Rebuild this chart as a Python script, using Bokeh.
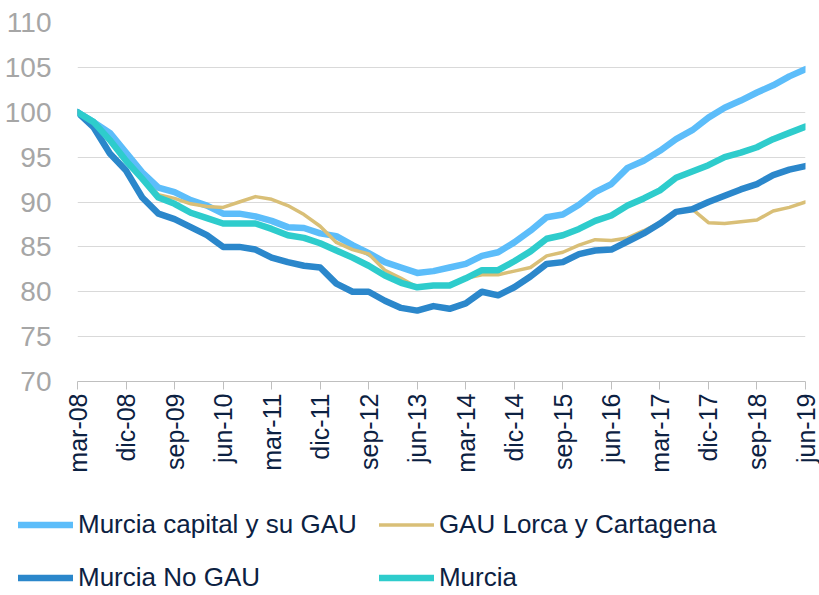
import math
from bokeh.plotting import figure
from bokeh.models import Range1d, FixedTicker, Legend, LegendItem, ColumnDataSource
from bokeh.embed import file_html
from bokeh.resources import INLINE

tick_labels = ["mar-08", "dic-08", "sep-09", "jun-10", "mar-11", "dic-11", "sep-12", "jun-13",
               "mar-14", "dic-14", "sep-15", "jun-16", "mar-17", "dic-17", "sep-18", "jun-19"]

murcia_capital = [100, 98.9, 97.7, 95.5, 93.3, 91.6, 91.1, 90.2, 89.6, 88.7, 88.7, 88.4, 87.9, 87.2, 87.1, 86.5,
                  86.2, 85.2, 84.3, 83.3, 82.7, 82.1, 82.3, 82.7, 83.1, 84.0, 84.4, 85.5, 86.8, 88.3, 88.6, 89.7,
                  91.1, 92.0, 93.8, 94.6, 95.7, 97.0, 98.0, 99.4, 100.5, 101.3, 102.2, 103.0, 104.0, 104.8]
gau_lorca = [100, 98.9, 96.9, 94.6, 92.6, 90.8, 90.4, 89.8, 89.5, 89.4, 90.0, 90.6, 90.3, 89.6, 88.6, 87.3,
             85.5, 84.7, 84.2, 82.4, 81.5, 80.5, 80.7, 80.7, 81.5, 81.9, 81.9, 82.3, 82.7, 84.0, 84.4, 85.2,
             85.8, 85.7, 86.0, 86.8, 87.7, 89.0, 89.2, 87.7, 87.6, 87.8, 88.0, 89.0, 89.4, 90.0]
murcia_no_gau = [100, 98.3, 95.4, 93.5, 90.5, 88.7, 88.1, 87.2, 86.3, 85.0, 85.0, 84.7, 83.8, 83.3, 82.9, 82.7,
                 80.9, 80.0, 80.0, 79.0, 78.2, 77.9, 78.4, 78.1, 78.7, 80.0, 79.6, 80.5, 81.7, 83.1, 83.3, 84.2,
                 84.6, 84.7, 85.6, 86.5, 87.6, 88.9, 89.2, 90.0, 90.7, 91.4, 92.0, 93.0, 93.6, 94.0]
murcia = [100, 98.9, 96.9, 94.6, 92.6, 90.5, 89.8, 88.8, 88.2, 87.6, 87.6, 87.6, 87.0, 86.3, 86.0, 85.4,
          84.6, 83.8, 82.9, 81.8, 81.0, 80.5, 80.7, 80.7, 81.5, 82.4, 82.4, 83.4, 84.5, 85.9, 86.3, 87.0,
          87.9, 88.5, 89.6, 90.4, 91.3, 92.7, 93.4, 94.1, 95.0, 95.5, 96.1, 97.0, 97.7, 98.4]

series_names = ["Murcia capital y su GAU", "GAU Lorca y Cartagena", "Murcia No GAU", "Murcia"]
series_colors = ["#5cbdfa", "#d9bf77", "#2b87cb", "#2ecccc"]
series_widths = [6.5, 3.5, 6.5, 6.5]

quarters = list(range(len(murcia)))

p = figure(width=819, height=480, output_backend="svg", toolbar_location=None,
           x_range=Range1d(0, 45), y_range=Range1d(70, 110),
           min_border_left=77, min_border_right=14, min_border_top=22, min_border_bottom=99)
p.outline_line_color = None
p.background_fill_color = "white"
p.border_fill_color = "white"

p.xaxis.ticker = FixedTicker(ticks=list(range(0, 46, 3)))
p.xaxis.major_label_overrides = {i * 3: lab for i, lab in enumerate(tick_labels)}
p.xaxis.major_label_orientation = math.pi / 2
p.xaxis.major_label_text_font = "Liberation Sans"
p.xaxis.major_label_text_font_size = "25px"
p.xaxis.major_label_text_color = "#0c2142"
p.xaxis.axis_line_color = "#bfbfbf"
p.xaxis.major_tick_line_color = "#bfbfbf"
p.xaxis.major_tick_out = 8
p.xaxis.major_tick_in = 0
p.xaxis.minor_tick_line_color = None
p.xaxis.major_label_standoff = 4

p.yaxis.ticker = FixedTicker(ticks=list(range(70, 111, 5)))
p.yaxis.major_label_text_font = "Liberation Sans"
p.yaxis.major_label_text_font_size = "28px"
p.yaxis.major_label_text_color = "#a6a6a6"
p.yaxis.axis_line_color = None
p.yaxis.major_tick_line_color = None
p.yaxis.minor_tick_line_color = None
p.yaxis.major_label_standoff = 20

p.xgrid.grid_line_color = None
p.ygrid.grid_line_color = "#d9d9d9"
p.ygrid.grid_line_width = 1

src = ColumnDataSource(dict(q=quarters, cap=murcia_capital, lor=gau_lorca, nog=murcia_no_gau, mur=murcia))
cols = ["cap", "lor", "nog", "mur"]
for col, c, w in zip(cols, series_colors, series_widths):
    p.line("q", col, source=src, line_color=c, line_width=w, line_join="round", line_cap="round")

# legend panel: separate figure whose ranges keep the series out of view
lg = figure(width=819, height=115, output_backend="svg", toolbar_location=None,
            x_range=Range1d(0, 1), y_range=Range1d(0, 1),
            x_axis_type=None, y_axis_type=None,
            min_border_left=0, min_border_right=0, min_border_top=0, min_border_bottom=0)
lg.outline_line_color = None
lg.grid.visible = False
lg.background_fill_color = "white"
lg.border_fill_color = "white"
items = []
for name, col, c, w in zip(series_names, cols, series_colors, series_widths):
    r = lg.line("q", col, source=src, line_color=c, line_width=w, line_cap="round")
    items.append(LegendItem(label=name, renderers=[r]))
legend = Legend(items=items, orientation="horizontal", ncols=2, location=(18, 2),
                label_text_font="Liberation Sans", label_text_font_size="26px", label_text_color="#0c2142",
                glyph_width=55, glyph_height=27, label_height=27, label_standoff=5, spacing=22,
                padding=0, margin=0, border_line_color=None, background_fill_alpha=0)
lg.add_layout(legend, "center")

open("out.html", "w").write(file_html([p, lg], INLINE))
